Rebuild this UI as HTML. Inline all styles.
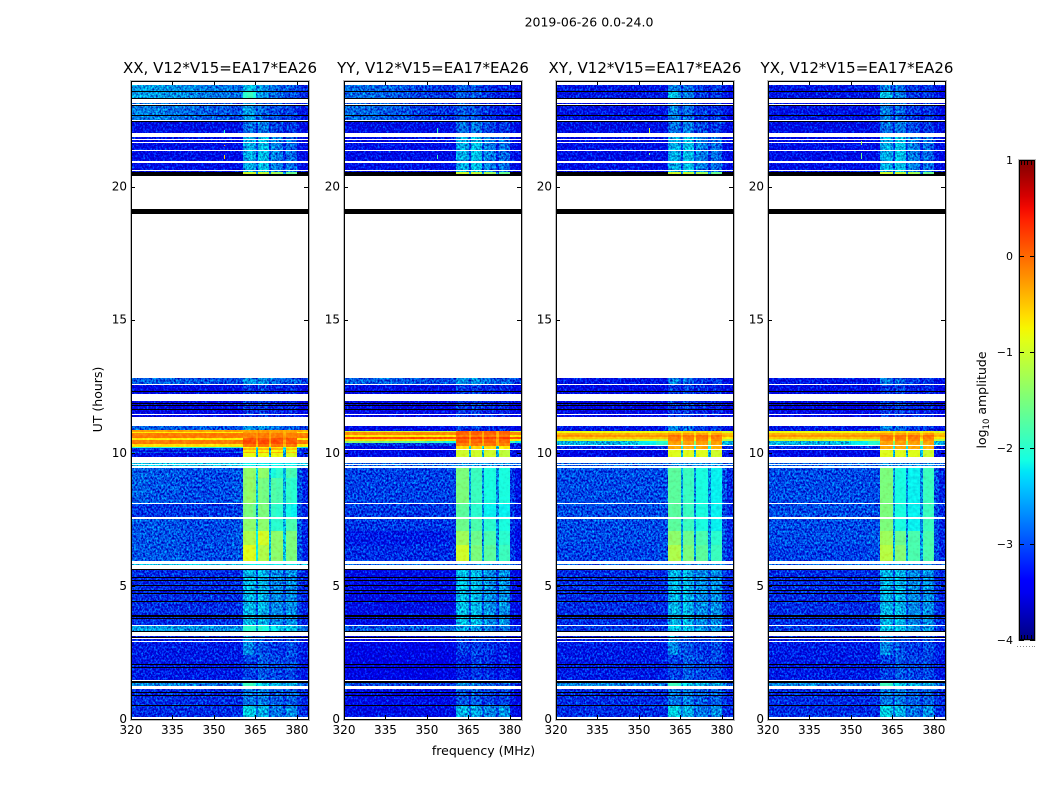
<!DOCTYPE html>
<html lang="en">
<head>
<meta charset="utf-8">
<title>2019-06-26 0.0-24.0</title>
<style>
html,body{margin:0;padding:0;background:#fff;width:1050px;height:800px;overflow:hidden}
svg{display:block}
text{font-family:"DejaVu Sans","Liberation Sans",sans-serif;fill:#000}
</style>
</head>
<body>
<svg id="figure" xmlns="http://www.w3.org/2000/svg" width="1050" height="800" viewBox="0 0 1050 800">
<defs>
<filter id="speckle" filterUnits="userSpaceOnUse" x="0" y="0" width="1050" height="800" color-interpolation-filters="sRGB">
<feTurbulence type="fractalNoise" baseFrequency="0.55 0.45" numOctaves="2" seed="7" result="t"/>
<feColorMatrix in="t" type="matrix" values="0 0 0 0 .5  1 0 0 0 0  .5 0 0 0 .25  0 0 0 0 1" result="n"/>
<feComposite in="SourceGraphic" in2="n" operator="arithmetic" k1="0" k2="1" k3="1.5" k4="-0.85" result="m"/>
<feComposite in="m" in2="SourceAlpha" operator="in"/>
</filter>
<filter id="speckle-soft" filterUnits="userSpaceOnUse" x="0" y="0" width="1050" height="800" color-interpolation-filters="sRGB">
<feTurbulence type="fractalNoise" baseFrequency="0.3" numOctaves="2" seed="11" result="t"/>
<feColorMatrix in="t" type="matrix" values="0 0 0 0 .5  1 0 0 0 0  .5 0 0 0 .25  0 0 0 0 1" result="n"/>
<feComposite in="SourceGraphic" in2="n" operator="arithmetic" k1="0" k2="1" k3="0.3" k4="-0.15" result="m"/>
<feComposite in="m" in2="SourceAlpha" operator="in"/>
</filter>
<linearGradient id="jet-gradient" x1="0" y1="1" x2="0" y2="0"></linearGradient>
</defs>
<text x="589" y="26.5" font-size="12.5" text-anchor="middle">2019-06-26 0.0-24.0</text>
<text x="483.5" y="755" font-size="12.5" text-anchor="middle">frequency (MHz)</text>
<text x="0" y="0" font-size="12.5" text-anchor="middle" transform="translate(102,399.5) rotate(-90)">UT (hours)</text>
<text x="0" y="0" font-size="12.5" text-anchor="middle" transform="translate(986,400) rotate(-90)">log<tspan font-size="8.5" dy="3">10</tspan><tspan dy="-3"> amplitude</tspan></text>
<g id="panels"></g>
<g id="colorbar"></g>
</svg>
<script>
/* ---------- chart values ---------- */
const panelTitles = ["XX, V12*V15=EA17*EA26","YY, V12*V15=EA17*EA26","XY, V12*V15=EA17*EA26","YX, V12*V15=EA17*EA26"];
const xTickValues = [320,335,350,365,380];
const yTickValues = [0,5,10,15,20];
const cbarTickValues = [1,0,-1,-2,-3,-4];
const freqEdges = [320,326,332,338,344,350,356,360.4,362,364,365.1,365.8,367.5,369.8,370.5,372.5,374.9,376,378,380,382,384];

/* log10 amplitude per frequency column (null = flagged, drawn black) */
const xxTopA = [-2.5,-2.5,-2.55,-2.6,-2.65,-2.7,-2.75,-2.4,-2.3,-2.4,-2.7,-2.5,-2.6,-2.8,-2.7,-2.8,-2.9,-2.8,-2.9,-3.0,-3.1];
const xxTopB = [-2.5,-2.5,-2.55,-2.6,-2.65,-2.7,-2.75,-2.0,-1.9,-2.1,-2.6,-2.5,-2.6,-2.8,-2.7,-2.8,-2.9,-2.9,-2.9,-3.0,-3.1];
const xxTopC = [-2.65,-2.65,-2.7,-2.75,-2.8,-2.85,-2.9,-2.5,-2.5,-2.6,-2.9,-2.7,-2.8,-2.9,-2.9,-2.9,-3.0,-2.9,-3.0,-3.1,-3.2];
const yyTop = [-2.75,-2.75,-2.8,-2.85,-2.95,-3.0,-3.05,-2.85,-2.8,-2.85,-3.05,-2.8,-2.9,-3.1,-3.0,-3.05,-3.2,-3.1,-3.1,-3.2,-3.3];
const crossTop = [-3.2,-3.2,-3.2,-3.2,-3.2,-3.2,-3.2,-2.7,-2.6,-2.8,-3.1,-2.7,-2.8,-3.1,-3.0,-3.0,-3.2,-3.0,-3.0,-3.2,-3.3];
const crossTopB = [-3.2,-3.2,-3.2,-3.2,-3.2,-3.2,-3.2,-2.3,-2.3,-2.5,-3.0,-2.6,-2.7,-3.1,-3.0,-3.0,-3.2,-3.0,-3.0,-3.2,-3.3];
const darkFaint = [-3.25,-3.25,-3.25,-3.25,-3.25,-3.25,-3.25,-2.8,-2.7,-2.8,-3.1,-2.65,-2.7,-3.1,-2.9,-2.95,-3.2,-3.0,-3.0,-3.2,-3.3];
const darkBright = [-3.25,-3.25,-3.25,-3.25,-3.25,-3.25,-3.25,-2.5,-2.4,-2.5,-3.0,-2.3,-2.35,-3.0,-2.6,-2.7,-3.1,-2.7,-2.8,-3.2,-3.3];
const yellowEdge = [null,null,null,null,null,null,null,-1.0,-1.0,-1.0,-2.6,-1.0,-1.1,-2.6,-1.2,-1.3,-2.6,-1.6,-1.6,null,null];
const lateBlue = [-2.8,-2.8,-2.8,-2.85,-2.85,-2.9,-2.9,-2.55,-2.55,-2.6,-2.8,-2.5,-2.6,-2.8,-2.7,-2.8,-2.9,-2.8,-2.8,-2.9,-3.0];
const lateDark = [-3.3,-3.3,-3.3,-3.3,-3.3,-3.3,-3.3,-3.0,-3.0,-3.1,-3.2,-2.95,-3.0,-3.2,-3.1,-3.1,-3.3,-3.1,-3.1,-3.3,-3.35];

/* bright 10-11 h interval, XX */
const xS1 = [-.3,-.3,-.3,-.3,-.3,-.3,-.3,-.35,-.3,-.3,-.4,-.3,-.3,-.4,-.3,-.3,-.4,-.3,-.3,-.35,-.4];
const xS2 = [-.7,-.7,-.7,-.7,-.7,-.7,-.7,-.3,-.3,-.3,-.4,-.3,-.3,-.4,-.3,-.3,-.4,-.3,-.3,-.7,-.7];
const xS3 = [-.1,-.1,-.1,-.1,-.1,-.1,-.1,-.15,-.1,-.1,-.3,-.1,-.1,-.3,-.1,-.1,-.3,-.15,-.15,-.1,-.1];
const xS4 = [-.7,-.7,-.7,-.7,-.7,-.7,-.7,.05,.1,.1,-.2,.1,.1,-.2,.1,.1,-.2,.05,.05,-.7,-.7];
const xS5 = [-.1,-.1,-.1,-.1,-.1,-.1,-.1,.15,.15,.15,-.3,.15,.15,-.3,.15,.15,-.3,.1,.1,-.1,-.1];
const xS6 = [-.65,-.65,-.65,-.65,-.65,-.65,-.65,-.05,-.05,-.05,-.5,-.05,-.05,-.5,-.05,-.05,-.5,-.1,-.1,-.7,-.7];
const xS7 = [-2,-2,-2,-2,-2,-2,-1.9,-.7,-.7,-.7,-1.8,-.7,-.7,-1.8,-.7,-.7,-1.8,-.8,-.8,-2,-2.2];
const xS8 = [-3,-3,-3,-3,-3,-3,-3,-.4,-.4,-.4,-2.4,-.4,-.4,-2.4,-.4,-.4,-2.4,-.5,-.5,-3,-3];
const xS9 = [-3.2,-3.2,-3.2,-3.2,-3.2,-3.2,-3.2,-.75,-.75,-.75,-2.4,-.75,-.75,-2.4,-.75,-.75,-2.4,-.85,-.85,-3.1,-3.2];
const xS10 = [-2.8,-2.8,-2.8,-2.8,-2.8,-2.8,-2.8,-.4,-.4,-.4,-2.4,-.4,-.4,-2.4,-.4,-.4,-2.4,-.5,-.5,-2.9,-3];
const xS11 = [-3.3,-3.3,-3.3,-3.3,-3.3,-3.3,-3.3,-.85,-.85,-.85,-2.5,-.85,-.85,-2.5,-.85,-.85,-2.5,-.95,-.95,-3.1,-3.2];

/* bright 10-11 h interval, YY */
const yS1 = [-1,-1,-1,-1,-1,-1,-1,0,.05,0,-.3,0,0,-.3,0,0,-.3,0,0,-1,-1];
const yS2 = [-.2,-.2,-.2,-.2,-.2,-.2,-.2,.05,.05,.05,-.3,.05,.05,-.3,.05,.05,-.3,.05,.05,-.2,-.2];
const yS3 = [-.7,-.7,-.7,-.7,-.7,-.7,-.7,-.1,-.1,-.1,-.4,-.1,-.1,-.4,-.1,-.1,-.4,-.1,-.1,-.7,-.7];
const yS4 = [.15,.15,.15,.15,.15,.15,.15,.2,.2,.2,-.2,.2,.2,-.2,.2,.2,-.2,.2,.2,.1,.1];
const yS5 = [-.65,-.65,-.65,-.65,-.65,-.65,-.65,0,0,0,-.4,0,0,-.4,0,0,-.4,0,0,-.7,-.7];
const yS6 = [-1.4,-1.4,-1.5,-1.6,-1.7,-1.9,-2.1,.05,.05,.05,-.4,.05,.05,-.4,.05,.05,-.4,0,0,-1.9,-2.2];
const yS7 = [-3,-3,-3,-3,-3,-3,-2.9,-.1,-.1,-.1,-.4,-.1,-.1,-.4,-.1,-.1,-.4,-.15,-.15,-3,-3.1];
const yS8 = [-3.3,-3.3,-3.3,-3.3,-3.3,-3.3,-3.3,-.6,-.6,-.6,-2.3,-.6,-.6,-2.3,-.6,-.6,-2.3,-.7,-.7,-3.2,-3.3];
const yS9 = [-3.3,-3.3,-3.3,-3.3,-3.3,-3.3,-3.3,-1,-1,-1,-2.4,-1,-1,-2.4,-1,-1,-2.4,-1.1,-1.1,-3.2,-3.3];

/* bright 10-11 h interval, XY and YX */
const cS1 = [-.8,-.8,-.8,-.8,-.8,-.8,-.8,-.6,-.6,-.6,-.9,-.6,-.6,-.9,-.6,-.6,-.9,-.6,-.6,-.9,-.9];
const cS2 = [-.4,-.4,-.4,-.4,-.4,-.4,-.4,-.3,-.3,-.3,-.6,-.3,-.3,-.6,-.3,-.3,-.6,-.3,-.3,-.5,-.5];
const cS3 = [-.25,-.25,-.25,-.25,-.25,-.25,-.25,-.05,-.05,-.05,-.4,-.05,-.05,-.4,-.05,-.05,-.4,-.05,-.05,-.4,-.4];
const cS4 = [-.5,-.5,-.5,-.5,-.5,-.5,-.5,-.1,-.1,-.1,-.6,-.1,-.1,-.6,-.1,-.1,-.6,-.1,-.1,-.7,-.7];
const cS5 = [-1,-1,-1,-1,-1,-1,-1.1,-.15,-.15,-.15,-.8,-.15,-.15,-.8,-.15,-.15,-.8,-.2,-.2,-1.1,-1.2];
const cS6 = [-2.4,-2.4,-2.4,-2.4,-2.3,-2.2,-2,-.3,-.3,-.3,-1.4,-.3,-.3,-1.4,-.3,-.3,-1.4,-.3,-.3,-2.3,-2.5];
const cS7 = [-3.1,-3.1,-3.1,-3.1,-3.1,-3.1,-3,-.35,-.35,-.35,-2.2,-.35,-.35,-2.2,-.35,-.35,-2.2,-.4,-.4,-3.1,-3.2];
const cS8 = [-3.3,-3.3,-3.3,-3.3,-3.3,-3.3,-3.3,-.9,-.9,-.9,-2.4,-.9,-.9,-2.4,-.9,-.9,-2.4,-1,-1,-3.2,-3.3];

/* thin lines around 9.5 h */
const lineBright = [-2.3,-2.3,-2.3,-2.3,-2.3,-2.3,-2.3,-2.2,-2.2,-2.2,-2.3,-2.2,-2.2,-2.3,-2.2,-2.2,-2.3,-2.2,-2.2,-2.3,-2.3];
const lineBlue = [-2.8,-2.8,-2.8,-2.8,-2.8,-2.8,-2.8,-2.6,-2.6,-2.6,-2.7,-2.6,-2.6,-2.7,-2.6,-2.6,-2.7,-2.6,-2.6,-2.8,-2.8];

/* 6-9.5 h interval */
const xxM0 = [-2.8,-2.85,-2.85,-2.9,-2.9,-2.9,-2.85,-1.4,-1.35,-1.4,-2.3,-1.35,-1.4,-2.4,-2.1,-2.0,-2.4,-1.8,-1.85,-2.85,-3.1];
const xxM1 = [-2.8,-2.85,-2.85,-2.9,-2.9,-2.9,-2.85,-1.4,-1.35,-1.4,-2.3,-1.5,-1.55,-2.4,-1.75,-1.8,-2.4,-1.95,-2.0,-2.85,-3.1];
const xxMid = [-3,-3,-3,-3,-3,-3,-2.95,-1.5,-1.5,-1.6,-2.4,-1.5,-1.5,-2.5,-1.95,-2,-2.5,-2.15,-2.2,-2.9,-3.1];
const xxLowA = [-2.85,-2.85,-2.85,-2.9,-2.9,-2.9,-2.85,-1.4,-1.4,-1.4,-2.3,-1.4,-1.4,-2.4,-2,-2,-2.4,-1.8,-1.8,-2.85,-3.1];
const xxLowB = [-2.85,-2.85,-2.85,-2.9,-2.9,-2.9,-2.85,-1.2,-1.2,-1.2,-2.2,-.95,-1,-2.3,-1.4,-1.4,-2.3,-1.5,-1.5,-2.85,-3.1];
const xxLowC = [-2.85,-2.85,-2.85,-2.9,-2.9,-2.9,-2.85,-.9,-.9,-.95,-2.2,-1.2,-1.2,-2.3,-1.4,-1.4,-2.3,-1.5,-1.5,-2.85,-3.1];
const yyM1 = [-2.95,-2.95,-2.95,-2.95,-2.95,-2.95,-2.95,-1.5,-1.5,-1.5,-2.5,-1.9,-1.9,-2.6,-2.1,-2.1,-2.6,-2.1,-2.1,-3,-3.2];
const yyMid = [-3,-3,-3,-3,-3,-3,-3,-1.7,-1.7,-1.7,-2.5,-2,-2,-2.6,-2.2,-2.2,-2.6,-2.2,-2.2,-3,-3.2];
const yyLowA = [-3,-3,-3,-3,-3,-3,-3,-1.6,-1.6,-1.6,-2.5,-1.8,-1.8,-2.6,-2,-2,-2.6,-2.1,-2.1,-3,-3.2];
const yyLowB = [-3.15,-3.15,-3.15,-3.15,-3.15,-3.15,-3.1,-1.3,-1.3,-1.3,-2.5,-1.6,-1.6,-2.6,-1.8,-1.8,-2.6,-2,-2,-3.1,-3.3];
const yyLowC = [-3.05,-3.05,-3.05,-3.05,-3.05,-3.05,-3.05,-1,-1,-1,-2.4,-1.5,-1.5,-2.5,-1.7,-1.7,-2.5,-1.9,-1.9,-3,-3.2];
const xyM1 = [-2.9,-2.9,-2.9,-2.9,-2.9,-2.9,-2.9,-1.7,-1.7,-1.7,-2.5,-1.9,-1.9,-2.6,-2.1,-2.1,-2.6,-2.2,-2.2,-2.9,-3.1];
const xyLow = [-2.9,-2.9,-2.9,-2.9,-2.9,-2.9,-2.9,-1.4,-1.4,-1.4,-2.5,-1.6,-1.6,-2.6,-1.8,-1.8,-2.6,-2,-2,-2.9,-3.1];
const xyLowC = [-2.95,-2.95,-2.95,-2.95,-2.95,-2.95,-2.9,-1.2,-1.2,-1.2,-2.4,-1.5,-1.5,-2.5,-1.7,-1.7,-2.5,-1.9,-1.9,-2.9,-3.1];
const yxM1 = [-2.9,-2.9,-2.9,-2.9,-2.9,-2.9,-2.9,-1.5,-1.5,-1.5,-2.5,-2.1,-2.1,-2.6,-2.2,-2.2,-2.6,-1.9,-1.9,-2.9,-3.1];
const yxLow = [-2.9,-2.9,-2.9,-2.9,-2.9,-2.9,-2.85,-1.3,-1.3,-1.3,-2.5,-1.6,-1.6,-2.6,-1.8,-1.8,-2.6,-1.8,-1.8,-2.9,-3.1];
const yxLowC = [-2.95,-2.95,-2.95,-2.95,-2.95,-2.95,-2.9,-1.15,-1.15,-1.15,-2.4,-1.45,-1.45,-2.5,-1.8,-1.8,-2.5,-1.8,-1.8,-2.9,-3.1];

/* 0-5.6 h interval */
const quietX = [-3.05,-3.05,-3.05,-3.05,-3.05,-3.05,-3.05,-2.45,-2.35,-2.45,-2.9,-2.3,-2.45,-2.9,-2.6,-2.6,-2.9,-2.55,-2.6,-3.0,-3.1];
const quietY = [-3.25,-3.25,-3.25,-3.25,-3.25,-3.25,-3.25,-2.4,-2.3,-2.4,-2.9,-2.3,-2.4,-2.9,-2.5,-2.6,-3.0,-2.5,-2.6,-3.2,-3.3];
const glowX = [-2.5,-2.5,-2.5,-2.55,-2.55,-2.6,-2.6,-2,-2,-2,-2.4,-2,-2.1,-2.5,-2.2,-2.3,-2.5,-2.3,-2.3,-2.6,-2.7];
const glowY = [-2.85,-2.85,-2.85,-2.85,-2.8,-2.8,-2.8,-2.5,-2.5,-2.5,-2.8,-2.5,-2.6,-2.8,-2.6,-2.7,-2.9,-2.7,-2.7,-3,-3.1];
const glowC = [-3,-3,-3,-3,-3,-3,-3,-2.3,-2.3,-2.3,-2.7,-2.3,-2.4,-2.7,-2.5,-2.6,-2.8,-2.5,-2.6,-3,-3.1];
const lowX = [-3.15,-3.15,-3.15,-3.15,-3.15,-3.15,-3.15,-2.6,-2.6,-2.8,-3.0,-2.8,-2.9,-3.0,-3.0,-3.0,-3.1,-2.9,-2.9,-3.1,-3.2];
const lowY = [-3.35,-3.35,-3.35,-3.35,-3.35,-3.35,-3.35,-3.0,-2.95,-3.0,-3.2,-2.95,-3.0,-3.1,-3.0,-3.05,-3.2,-3.1,-3.1,-3.3,-3.35];
const lowXb = [-3.15,-3.15,-3.15,-3.15,-3.15,-3.15,-3.15,-2.95,-2.95,-2.95,-3.1,-2.8,-2.85,-3,-2.9,-2.95,-3.0,-2.9,-2.95,-3.1,-3.2];
const lowYb = [-3.35,-3.35,-3.35,-3.35,-3.35,-3.35,-3.35,-3.1,-3.1,-3.1,-3.3,-2.95,-3,-3.2,-3,-3.1,-3.3,-3.1,-3.1,-3.3,-3.35];
const edgeX = [-2.6,-2.6,-2.6,-2.65,-2.7,-2.7,-2.7,-1.9,-1.9,-2,-2.5,-2.2,-2.3,-2.6,-2.4,-2.4,-2.6,-2.4,-2.4,-2.7,-2.8];
const edgeY = [-2.9,-2.9,-2.9,-2.9,-2.95,-2.95,-3,-2.6,-2.5,-2.6,-2.9,-2.6,-2.7,-2.9,-2.8,-2.8,-3,-2.8,-2.8,-3,-3.1];
const baseX = [-3.05,-3.05,-3.05,-3.05,-3.05,-3.05,-3.05,-2.7,-2.7,-2.7,-2.95,-2.6,-2.7,-2.95,-2.8,-2.8,-3,-2.8,-2.8,-3,-3.1];
const baseY = [-3.25,-3.25,-3.25,-3.25,-3.25,-3.25,-3.25,-2.85,-2.85,-2.85,-3.1,-2.75,-2.85,-3.1,-2.95,-2.95,-3.1,-2.95,-2.95,-3.2,-3.3];
const baseXb = [-3.05,-3.05,-3.05,-3.05,-3.05,-3.05,-3.05,-2.25,-2.25,-2.35,-2.75,-2.35,-2.45,-2.85,-2.7,-2.7,-2.9,-2.55,-2.6,-3,-3.1];
const baseYb = [-3.25,-3.25,-3.25,-3.25,-3.25,-3.25,-3.25,-2.4,-2.4,-2.45,-2.85,-2.4,-2.5,-2.9,-2.6,-2.6,-2.9,-2.5,-2.6,-3.2,-3.3];

/* rows: [hour top, hour bottom, XX, YY, XY, YX]; hours with no row are empty (white) */
const timeBands = [
 [23.80,23.59,xxTopA,yyTop,crossTop,crossTop],
 [23.59,23.31,xxTopB,yyTop,crossTopB,crossTopB],
 [23.14,23.10,xxTopC,yyTop,crossTop,crossTop],
 [23.08,22.59,xxTopC,yyTop,crossTop,crossTop],
 [22.56,22.52,xxTopC,yyTop,crossTop,crossTop],
 [22.41,22.03,darkFaint,darkFaint,darkFaint,darkFaint],
 [21.88,21.79,darkBright,darkBright,darkBright,darkBright],
 [21.75,21.69,darkBright,darkBright,darkBright,darkBright],
 [21.65,21.39,darkBright,darkBright,darkBright,darkBright],
 [21.33,20.98,darkBright,darkBright,darkBright,darkBright],
 [20.90,20.64,darkBright,darkBright,darkBright,darkBright],
 [20.60,20.56,darkBright,darkBright,darkBright,darkBright],
 [20.56,20.49,yellowEdge,yellowEdge,yellowEdge,yellowEdge],
 [12.82,12.59,lateBlue,lateBlue,crossTop,crossTop],
 [12.56,12.20,lateDark,lateDark,lateDark,lateDark],
 [11.95,11.45,lateDark,lateDark,lateDark,lateDark],
 [11.41,11.35,lateDark,lateDark,lateDark,lateDark],
 [11.02,10.86,lateBlue,lateDark,crossTop,crossTop],
 [10.86,10.83,xS1,lateDark,crossTop,crossTop],
 [10.83,10.79,xS1,yS1,cS1,cS1],
 [10.79,10.75,xS2,yS2,cS1,cS1],
 [10.75,10.68,xS3,yS2,cS2,cS2],
 [10.68,10.60,xS3,yS3,cS3,cS3],
 [10.60,10.56,xS3,yS4,cS4,cS4],
 [10.56,10.53,xS4,yS4,cS4,cS4],
 [10.53,10.49,xS4,yS5,cS5,cS5],
 [10.49,10.45,xS5,yS5,cS5,cS5],
 [10.45,10.38,xS5,yS6,cS6,cS6],
 [10.38,10.34,xS5,yS7,cS6,cS6],
 [10.34,10.28,xS6,yS7,cS6,cS6],
 [10.28,10.26,xS6,yS7,null,null],
 [10.26,10.24,xS6,null,null,null],
 [10.24,10.23,xS6,yS8,cS7,cS7],
 [10.23,10.17,xS7,yS8,cS7,cS7],
 [10.17,10.13,xS8,yS8,cS7,cS7],
 [10.13,10.09,xS8,null,null,null],
 [10.09,10.04,xS9,yS9,cS8,cS8],
 [10.04,10.00,xS10,yS9,cS8,cS8],
 [10.00,9.85,xS11,yS9,cS8,cS8],
 [9.60,9.57,lineBright,lineBlue,lineBlue,lineBlue],
 [9.53,9.50,lineBright,lineBlue,lineBlue,lineBlue],
 [9.44,9.06,xxM0,yyM1,xyM1,yxM1],
 [9.06,8.12,xxM1,yyM1,xyM1,yxM1],
 [8.09,7.60,xxMid,yyMid,xyM1,yxM1],
 [7.50,7.07,xxLowA,yyLowA,xyM1,yxM1],
 [7.07,6.54,xxLowB,yyLowB,xyLow,yxLow],
 [6.54,5.92,xxLowC,yyLowC,xyLowC,yxLowC],
 [5.83,5.79,lineBright,lineBlue,lineBlue,lineBlue],
 [5.62,3.53,quietX,quietY,quietX,quietX],
 [3.50,3.31,glowX,glowY,glowC,glowC],
 [3.12,3.03,lowX,lowY,lowX,lowX],
 [2.99,2.93,lowX,lowY,lowX,lowX],
 [2.89,2.40,lowX,lowY,lowX,lowX],
 [2.40,1.47,lowXb,lowYb,lowXb,lowXb],
 [1.43,1.24,edgeX,edgeY,edgeX,edgeX],
 [1.13,0.53,baseX,baseY,baseX,baseX],
 [0.53,0.08,baseXb,baseYb,baseXb,baseXb]
];

/* flagged rows drawn black across the whole band: [hour top, hour bottom] */
const maskedHours = [
 [23.61,23.57],[23.32,23.28],[23.06,23.02],[22.70,22.66],[22.48,22.41],[20.49,20.39],[19.14,18.98],
 [12.33,12.29],[11.88,11.84],[11.79,11.75],[11.64,11.60],
 [5.62,5.58],[5.34,5.30],[5.21,5.17],[5.02,4.98],[4.83,4.79],[4.72,4.68],[4.45,4.42],[3.89,3.85],[3.80,3.76],
 [3.31,3.27],[3.08,3.05],[2.05,2.01],[1.97,1.94],[1.43,1.35],[1.02,0.98],[0.90,0.86],[0.53,0.49]
];

/* narrow interference spikes: [panel, start MHz, end MHz, hour top, hour bottom, log10 amplitude] */
const spikes = [
 [0,353.8,354.1,22.14,22.03,-2.0],[0,353.8,354.1,21.58,21.54,-.3],[0,353.8,354.1,21.17,21.05,-.6],
 [1,353.8,354.1,22.22,22.03,-1.9],[1,353.8,354.1,21.17,21.05,-1.9],
 [2,353.8,354.1,22.22,22.03,-1.0],[2,353.8,354.1,21.25,21.17,-1.4],
 [3,353.8,354.1,21.70,21.55,-1.3],[3,353.8,354.1,21.25,21.05,-1.6]
];

/* ---------- axis functions ---------- */
const panelLefts = [131,344,556,768];
const panelWidth = 177, plotTop = 81, plotBottom = 719;
const SVGNS = "http://www.w3.org/2000/svg";
const freqMax = 384, hourScale = 26.62, smoothAbove = -2.25;
function xPos(panel, mhz){ return panelLefts[panel] + (mhz - 320) * panelWidth / (freqMax - 320); }
function yPos(hour){ return plotBottom - hour * hourScale; }
function cbarY(v){ return 160 + (1 - v) * 96; }
function ramp(t, pts){
  for (let i = 1; i < pts.length; i++) {
    if (t <= pts[i][0]) {
      const a = pts[i-1], b = pts[i];
      return a[1] + (b[1]-a[1]) * (t-a[0]) / (b[0]-a[0]);
    }
  }
  return pts[pts.length-1][1];
}
function jet(v){
  const t = Math.max(0, Math.min(1, (v + 4) / 5));
  const r = ramp(t, [[0,0],[.35,0],[.66,1],[.89,1],[1,.5]]);
  const g = ramp(t, [[0,0],[.125,0],[.375,1],[.64,1],[.91,0],[1,0]]);
  const b = ramp(t, [[0,.5],[.11,1],[.34,1],[.65,0],[1,0]]);
  return "rgb(" + Math.round(r*255) + "," + Math.round(g*255) + "," + Math.round(b*255) + ")";
}
function mk(tag, attrs, parent){
  const el = document.createElementNS(SVGNS, tag);
  for (const k in attrs) el.setAttribute(k, attrs[k]);
  parent.appendChild(el);
  return el;
}

/* ---------- panels ---------- */
const panelsRoot = document.getElementById("panels");
panelTitles.forEach(function(title, p){
  const group = mk("g", {}, panelsRoot);
  
  

  const dataLayer = mk("g", {filter:"url(#speckle)", "shape-rendering":"crispEdges"}, group);
  
  
  const hotLayer = mk("g", {filter:"url(#speckle-soft)", "shape-rendering":"crispEdges"}, group);
  
  
  const maskLayer = mk("g", {"shape-rendering":"crispEdges"}, group);
  
  

  timeBands.forEach(function(band){
    const spectrum = band[2 + p];
    if (!spectrum) return;
    const y0 = Math.round(yPos(band[0])), y1 = Math.max(Math.round(yPos(band[1])), Math.round(yPos(band[0])) + 1);
    spectrum.forEach(function(value, c){
      const x0 = Math.round(xPos(p, freqEdges[c])), x1 = Math.round(xPos(p, freqEdges[c+1]));
      const layer = value === null ? maskLayer : (value > smoothAbove ? hotLayer : dataLayer);
      const cell = mk("rect", {x:x0, y:y0, width:x1-x0, height:y1-y0, fill: value === null ? "#000" : jet(value)}, layer);
      
      
    });
  });

  spikes.forEach(function(s){
    if (s[0] !== p) return;
    const sx = Math.round(xPos(p, s[1]));
    const sy = Math.round(yPos(s[3]));
    const spike = mk("rect", {x:sx, y:sy, width:Math.max(1, Math.round(xPos(p, s[2])) - sx), height:Math.max(1, Math.round(yPos(s[4])) - sy), fill:jet(s[5])}, maskLayer);
    
    
  });

  maskedHours.forEach(function(m){
    const my = Math.round(yPos(m[0]));
    const line = mk("rect", {x:panelLefts[p], y:my, width:panelWidth, height:Math.max(1, Math.round(yPos(m[1])) - my), fill:"#000"}, maskLayer);
    
    
  });

  const titleText = mk("text", {x:panelLefts[p] + panelWidth/2 + .5, y:73, "font-size":"15", "text-anchor":"middle"}, group);
  titleText.textContent = title;
  
  

  xTickValues.forEach(function(v){
    const x = Math.round(xPos(p, v)) + .5;
    const top = mk("line", {x1:x, x2:x, y1:plotTop, y2:plotTop+4, stroke:"#000"}, group);
    
    
    const bottom = mk("line", {x1:x, x2:x, y1:plotBottom, y2:plotBottom-4, stroke:"#000"}, group);
    
    
    const label = mk("text", {x:xPos(p, v), y:734, "font-size":"12", "text-anchor":"middle"}, group);
    label.textContent = v;
    
    
  });

  yTickValues.forEach(function(v){
    const y = Math.round(yPos(v)) + .5;
    const left = mk("line", {x1:panelLefts[p], x2:panelLefts[p]+4, y1:y, y2:y, stroke:"#000"}, group);
    
    
    const right = mk("line", {x1:panelLefts[p]+panelWidth, x2:panelLefts[p]+panelWidth-4, y1:y, y2:y, stroke:"#000"}, group);
    
    
    const label = mk("text", {x:panelLefts[p]-4, y:yPos(v)+4, "font-size":"12", "text-anchor":"end"}, group);
    label.textContent = v;
    
    
  });

  const frameGrey = mk("rect", {x:panelLefts[p]-.5, y:plotTop-.5, width:panelWidth+2, height:plotBottom-plotTop+2, fill:"none", stroke:"#bbb", "stroke-width":"1"}, group);
  
  
  const frame = mk("rect", {x:panelLefts[p]+.5, y:plotTop+.5, width:panelWidth, height:plotBottom-plotTop, fill:"none", stroke:"#000", "stroke-width":"1"}, group);
  
  
});

/* ---------- colorbar ---------- */
const grad = document.getElementById("jet-gradient");
for (let i = 0; i <= 40; i++) {
  const stop = mk("stop", {offset:(i/40), "stop-color":jet(-4 + 5*i/40)}, grad);
}
const cbar = document.getElementById("colorbar");
const cbarRect = mk("rect", {x:1019, y:160, width:16, height:480, fill:"url(#jet-gradient)"}, cbar);


const cbarShadow = mk("rect", {x:1018.5, y:159.5, width:17, height:481, fill:"none", stroke:"#bbb"}, cbar);


const cbarFrame = mk("rect", {x:1019.5, y:160.5, width:15, height:479, fill:"none", stroke:"#000"}, cbar);


cbarTickValues.forEach(function(v){
  const y = Math.round(cbarY(v)) + .5;
  const l = mk("line", {x1:1019, x2:1024, y1:y, y2:y, stroke:"#000"}, cbar);
  
  
  const r = mk("line", {x1:1030, x2:1035, y1:y, y2:y, stroke:"#000"}, cbar);
  
  
  const label = mk("text", {x:1013, y:cbarY(v)+4, "font-size":"11", "text-anchor":"end"}, cbar);
  label.textContent = String(v).replace("-", "\u2212");
  
  
});
[1021.5,1024.5,1027.5,1031.5].forEach(function(x){
  const t = mk("line", {x1:x, x2:x, y1:160, y2:165, stroke:"#000"}, cbar);
  
  
  const b = mk("line", {x1:x, x2:x, y1:640, y2:635, stroke:"#000"}, cbar);
  
  
});
[1017,1020,1023,1026,1029,1032,1034].forEach(function(x){
  const d = mk("rect", {x:x, y:646, width:1, height:1, fill:"#888"}, cbar);
  
  
});
</script>
</body>
</html>
